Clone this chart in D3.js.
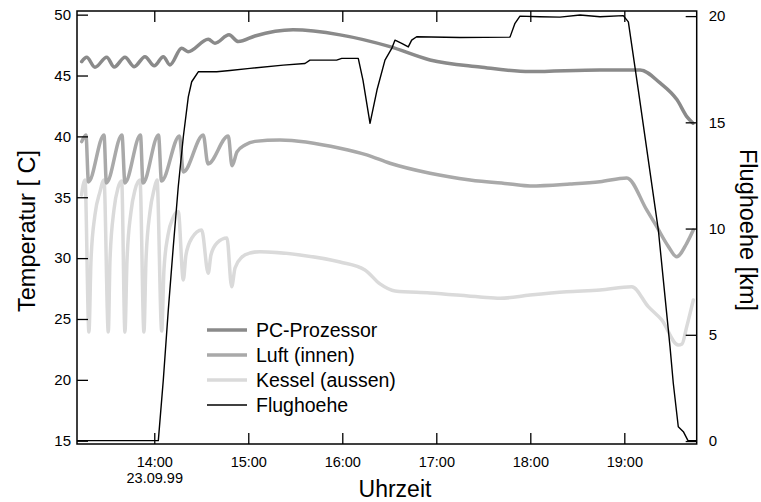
<!DOCTYPE html>
<html><head><meta charset="utf-8">
<script src="https://cdn.jsdelivr.net/npm/d3@7"></script>
<style>body{margin:0;background:#fff} text{font-family:"Liberation Sans",Arial,sans-serif;fill:#000}</style>
</head><body><svg id="c" width="761" height="502"></svg>
<script>
// time values are decimal hours on 23.09.99
const pcTime=[13.228,13.281,13.369,13.494,13.574,13.688,13.787,13.901,14.000,14.096,14.167,14.291,14.359,14.574,14.646,14.795,14.894,15.071,15.476,15.976,16.507,16.933,17.465,17.997,18.741,19.167,19.380,19.561,19.667,19.731];
const pcTemp=[46.14,46.50,45.68,46.50,45.70,46.50,45.73,46.55,45.80,46.55,45.87,47.24,46.96,47.98,47.65,48.34,47.79,48.25,48.75,48.34,47.37,46.28,45.70,45.32,45.46,45.46,44.39,43.00,41.60,41.08];

const luftTime=[13.228,13.273,13.300,13.465,13.491,13.656,13.688,13.853,13.880,14.045,14.077,14.268,14.309,14.521,14.571,14.787,14.827,14.880,14.965,15.071,15.337,15.976,16.260,16.507,16.933,17.359,17.784,17.997,18.422,18.741,19.026,19.238,19.345,19.465,19.557,19.664,19.734];
const luftTemp=[39.57,40.12,36.26,40.12,36.18,40.12,36.18,40.12,36.18,40.12,36.34,40.04,37.08,40.12,37.74,40.04,37.58,38.72,39.29,39.59,39.71,39.03,38.48,37.79,36.97,36.42,36.09,35.93,36.09,36.28,36.59,33.96,32.58,31.00,30.12,31.22,32.31];

const kesselTime=[13.226,13.263,13.305,13.327,13.369,13.422,13.465,13.511,13.529,13.571,13.614,13.653,13.688,13.710,13.752,13.795,13.848,13.890,13.912,13.954,13.997,14.029,14.079,14.103,14.146,14.199,14.255,14.309,14.337,14.401,14.504,14.574,14.603,14.667,14.773,14.823,14.859,14.933,15.018,15.124,15.550,15.976,16.241,16.401,16.561,16.933,17.465,17.678,17.997,18.387,18.741,19.079,19.255,19.398,19.574,19.614,19.664,19.734];
const kesselTemp=[35.19,36.42,23.93,29.85,33.55,35.44,36.42,23.93,29.85,33.96,35.77,36.34,23.93,29.85,33.79,35.60,36.42,23.93,29.85,33.79,35.60,36.42,24.01,29.03,31.90,33.30,33.82,28.21,30.26,31.66,32.31,28.76,30.26,31.25,31.66,27.65,29.19,30.09,30.42,30.53,30.26,29.68,29.03,27.88,27.30,27.14,26.81,26.70,26.97,27.24,27.38,27.65,26.01,24.92,22.86,22.95,24.37,26.56];

const flugTime=[13.178,14.043,14.096,14.149,14.202,14.255,14.309,14.362,14.398,14.468,14.664,14.805,15.018,15.372,15.603,15.656,15.940,15.994,16.170,16.220,16.295,16.369,16.454,16.526,16.561,16.632,16.702,16.738,16.791,17.252,17.784,17.837,17.890,18.100,18.316,18.529,18.741,18.989,19.043,19.149,19.362,19.486,19.521,19.574,19.628,19.679,19.770];
const flugKm=[0.02,0.02,2.87,6.16,9.14,11.97,14.32,16.20,16.91,17.38,17.38,17.44,17.54,17.69,17.77,17.93,17.93,18.01,18.01,16.99,14.95,16.52,17.93,18.48,18.87,18.72,18.55,18.87,19.03,18.99,19.01,19.66,20.00,19.97,19.95,20.05,19.97,20.02,19.73,16.52,9.93,4.44,2.72,0.67,0.44,0.01,0.01];

const hourTicks=[14,15,16,17,18,19];
const tempTicks=[15,20,25,30,35,40,45,50];
const kmTicks=[0,5,10,15,20];
const seriesNames=["PC-Prozessor","Luft (innen)","Kessel (aussen)","Flughoehe"];
const seriesColors=["#8a8a8a","#a9a9a9","#dadada","#000000"];
const seriesWidths=[3.5,3.5,3.5,1.4];

const svg=d3.select("#c");
const L=77,R=696.7,T=11,B=444;
const base=new Date(1999,8,23).getTime();
const toDate=h=>new Date(base+h*3600000);
const x=d3.scaleTime().domain([toDate(13.178),toDate(19.770)]).range([L,R]);
const yT=d3.scaleLinear().domain([14.73,50.30]).range([B,T]);
const yH=d3.scaleLinear().domain([-0.14,20.24]).range([B,T]);

const plot=svg.append("g");
const zip=(ts,vs)=>ts.map((t,i)=>[t,vs[i]]);
const lineT=d3.line().x(d=>x(toDate(d[0]))).y(d=>yT(d[1])).curve(d3.curveMonotoneX);
const lineH=d3.line().x(d=>x(toDate(d[0]))).y(d=>yH(d[1]));
const temps=[zip(pcTime,pcTemp),zip(luftTime,luftTemp),zip(kesselTime,kesselTemp)];
[2,1,0].forEach(i=>{
  plot.append("path").attr("d",lineT(temps[i])).attr("fill","none")
   .attr("stroke",seriesColors[i]).attr("stroke-width",seriesWidths[i]).attr("stroke-linejoin","round").attr("stroke-linecap","round");
});
plot.append("path").attr("d",lineH(zip(flugTime,flugKm))).attr("fill","none")
  .attr("stroke",seriesColors[3]).attr("stroke-width",seriesWidths[3]).attr("stroke-linejoin","round");

// axes
const fmt=d3.timeFormat("%H:%M");
const hourDates=hourTicks.map(toDate);
const ax=svg.append("g").attr("transform",`translate(0,${B})`)
  .call(d3.axisBottom(x).tickValues(hourDates).tickSize(-11).tickSizeOuter(0).tickPadding(13).tickFormat(fmt));
svg.append("g").attr("transform",`translate(0,${T})`)
  .call(d3.axisTop(x).tickValues(hourDates).tickSize(-11).tickSizeOuter(0).tickFormat(""));
svg.append("g").attr("transform",`translate(${L},0)`)
  .call(d3.axisLeft(yT).tickValues(tempTicks).tickSize(-11).tickSizeOuter(0).tickPadding(6));
svg.append("g").attr("transform",`translate(${R},0)`)
  .call(d3.axisRight(yH).tickValues(kmTicks).tickSize(-11).tickSizeOuter(0).tickPadding(12));
svg.selectAll(".tick text").style("font-size","15px").style("font-family","'Liberation Sans',Arial,sans-serif");
svg.selectAll(".tick line").attr("stroke","#000").attr("stroke-width",1.3);
svg.selectAll(".domain").remove();
ax.selectAll(".tick text").style("font-size","14.5px");
// date under first tick
ax.selectAll(".tick").filter((d,i)=>i===0).append("text")
  .attr("y",29).attr("dy","0.71em").attr("text-anchor","middle").attr("fill","#000")
  .style("font-size","14.5px").text("23.09.99");
// frame
svg.append("rect").attr("x",L).attr("y",T).attr("width",R-L).attr("height",B-T)
  .attr("fill","none").attr("stroke","#000").attr("stroke-width",1.5);

// titles
svg.append("text").attr("transform","translate(35,231) rotate(-90)").attr("text-anchor","middle")
  .style("font-size","23.5px").text("Temperatur [ C]");
svg.append("text").attr("transform","translate(740,230) rotate(90)").attr("text-anchor","middle")
  .style("font-size","23.5px").text("Flughoehe [km]");
svg.append("text").attr("x",395).attr("y",497).attr("text-anchor","middle")
  .style("font-size","23px").text("Uhrzeit");

// legend
const lg=svg.append("g");
seriesNames.forEach((n,i)=>{
  const yy=330+i*25;
  lg.append("line").attr("x1",207).attr("x2",247).attr("y1",yy).attr("y2",yy)
    .attr("stroke",seriesColors[i]).attr("stroke-width",seriesWidths[i]);
  lg.append("text").attr("x",256).attr("y",yy).attr("dy","0.35em").style("font-size","19.5px").text(n);
});
</script></body></html>
